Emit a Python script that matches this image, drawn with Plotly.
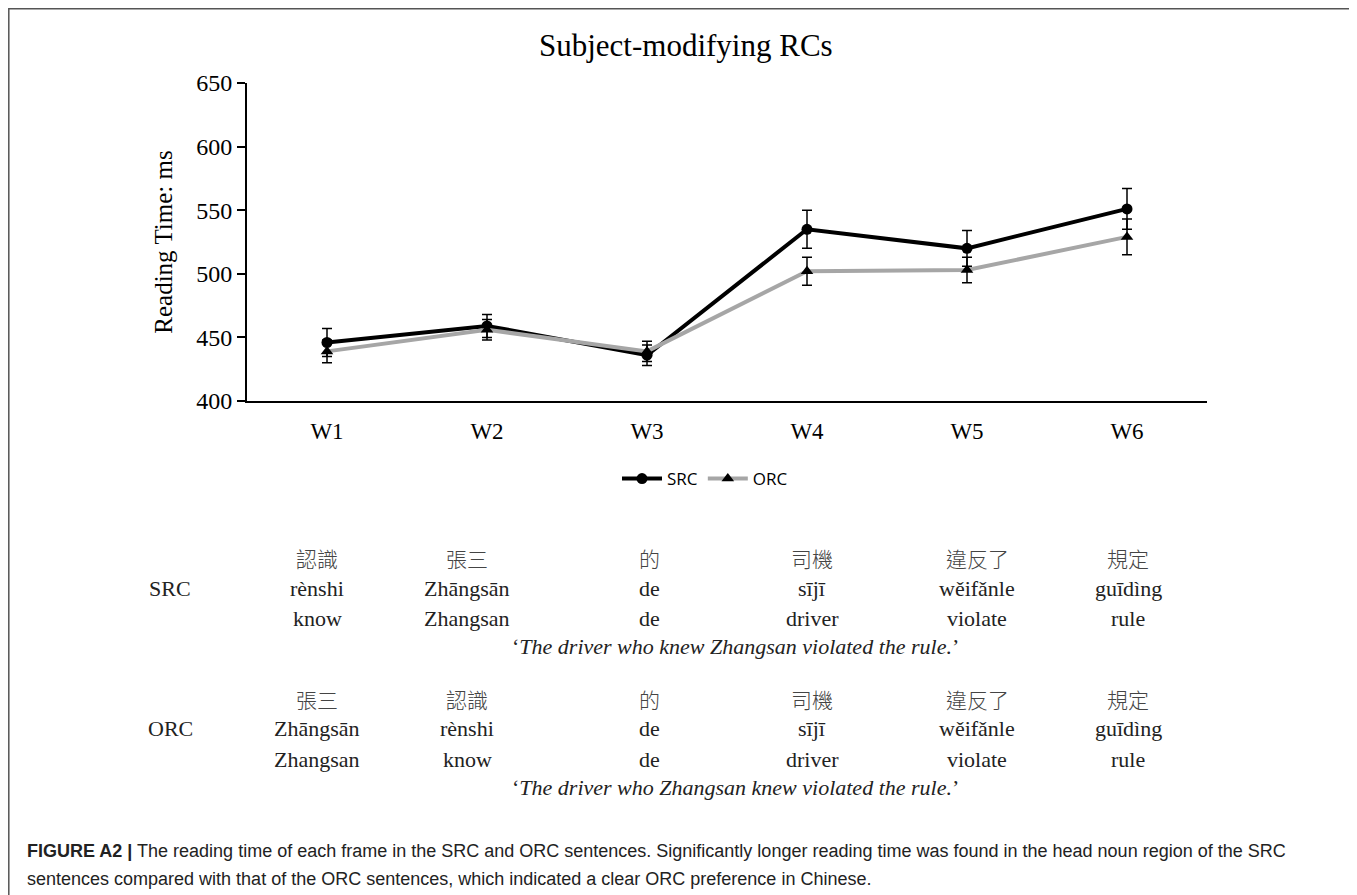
import plotly.graph_objects as go

# ---- data ----
words = ["W1", "W2", "W3", "W4", "W5", "W6"]
src_rt = [446, 459, 436, 535, 520, 551]
src_err = [11, 9, 8, 15, 14, 16]
orc_rt = [439, 456, 439, 502, 503, 529]
orc_err = [9, 8, 8, 11, 10, 14]

y_ticks = [400, 450, 500, 550, 600, 650]

src_cjk = ["認識", "張三", "的", "司機", "違反了", "規定"]
src_pinyin = ["rènshi", "Zhāngsān", "de", "sījī", "wěifǎnle", "guīdìng"]
src_gloss = ["know", "Zhangsan", "de", "driver", "violate", "rule"]
src_trans = "The driver who knew Zhangsan violated the rule."

orc_cjk = ["張三", "認識", "的", "司機", "違反了", "規定"]
orc_pinyin = ["Zhāngsān", "rènshi", "de", "sījī", "wěifǎnle", "guīdìng"]
orc_gloss = ["Zhangsan", "know", "de", "driver", "violate", "rule"]
orc_trans = "The driver who Zhangsan knew violated the rule."

caption_line1 = ("<b>FIGURE A2 |</b> The reading time of each frame in the SRC and ORC sentences. "
                 "Significantly longer reading time was found in the head noun region of the SRC")
caption_line2 = ("sentences compared with that of the ORC sentences, which indicated a clear ORC "
                 "preference in Chinese.")

# ---- layout geometry (pixels; page body adds an 8px offset) ----
OFF = 8
W, H = 1357 - OFF, 895 - OFF
L, T = 247 - OFF, 83 - OFF
PW, PH = 960, 318
R = W - L - PW
B = H - T - PH


def px(x):
    """reference-screen x pixel -> paper x"""
    return (x - OFF - L) / PW


def py(y):
    """reference-screen y pixel -> paper y"""
    return (T + PH - (y - OFF)) / PH


SERIF = "Liberation Serif, Times New Roman, serif"
CJK = "Noto Sans CJK TC, Noto Sans CJK SC, sans-serif"
SANS = "Liberation Sans, Arial, sans-serif"

fig = go.Figure()
fig.add_trace(go.Scatter(
    x=words, y=src_rt, name="SRC", mode="lines+markers",
    line=dict(color="black", width=4),
    marker=dict(symbol="circle", size=11, color="black"),
    error_y=dict(type="data", array=src_err, color="black", thickness=1.5, width=5),
))
fig.add_trace(go.Scatter(
    x=words, y=orc_rt, name="ORC", mode="lines+markers",
    line=dict(color="#a6a6a6", width=4),
    marker=dict(symbol="triangle-up", size=11, color="black"),
    error_y=dict(type="data", array=orc_err, color="black", thickness=1.5, width=5),
))

annotations = []
annotations.append(dict(text="Subject-modifying RCs", x=px(686), y=py(45), xref="paper", yref="paper",
                        showarrow=False, font=dict(family=SERIF, size=31, color="black"),
                        xanchor="center", yanchor="middle"))

col_x = [317, 467, 649, 812, 977, 1128]


def block(label, cjk, pinyin, gloss, trans, y0):
    rows_y = [y0, y0 + 30, y0 + 60, y0 + 88]
    annotations.append(dict(text=label, x=px(170), y=py(rows_y[1]), xref="paper", yref="paper",
                            showarrow=False, font=dict(family=SERIF, size=22, color="#222"),
                            xanchor="center", yanchor="middle"))
    for i, cx in enumerate(col_x):
        annotations.append(dict(text=cjk[i], x=px(cx), y=py(rows_y[0]), xref="paper", yref="paper",
                                showarrow=False,
                                font=dict(family=CJK, size=21, color="#444", weight=300),
                                xanchor="center", yanchor="middle"))
        annotations.append(dict(text=pinyin[i], x=px(cx), y=py(rows_y[1]), xref="paper", yref="paper",
                                showarrow=False, font=dict(family=SERIF, size=22, color="#222"),
                                xanchor="center", yanchor="middle"))
        annotations.append(dict(text=gloss[i], x=px(cx), y=py(rows_y[2]), xref="paper", yref="paper",
                                showarrow=False, font=dict(family=SERIF, size=22, color="#222"),
                                xanchor="center", yanchor="middle"))
    annotations.append(dict(text="‘<i>" + trans + "</i>’", x=px(735), y=py(rows_y[3]),
                            xref="paper", yref="paper", showarrow=False,
                            font=dict(family=SERIF, size=22, color="#222"),
                            xanchor="center", yanchor="middle"))


block("SRC", src_cjk, src_pinyin, src_gloss, src_trans, 558)
block("ORC", orc_cjk, orc_pinyin, orc_gloss, orc_trans, 699)

for txt, yy in ((caption_line1, 851), (caption_line2, 879)):
    annotations.append(dict(text=txt, x=px(25), y=py(yy), xref="paper", yref="paper",
                            showarrow=False, align="left",
                            font=dict(family=SANS, size=18, color="#222"),
                            xanchor="left", yanchor="middle"))

fig.update_layout(
    width=W, height=H,
    margin=dict(l=L, r=R, t=T, b=B),
    paper_bgcolor="white", plot_bgcolor="white",
    showlegend=True,
    legend=dict(orientation="h", x=px(705), y=py(479), xanchor="center", yanchor="middle",
                font=dict(family="Open Sans, sans-serif", size=17, color="black"),
                itemwidth=40, tracegroupgap=0, bgcolor="rgba(0,0,0,0)"),
    annotations=annotations,
    shapes=[dict(type="rect", xref="paper", yref="paper",
                 x0=px(8.8), x1=px(1355), y0=py(8.8), y1=py(960),
                 line=dict(color="#555", width=1.5), fillcolor="rgba(0,0,0,0)", layer="above")],
)

fig.update_xaxes(type="category", range=[-0.5, 5.5], showline=True, linecolor="black", linewidth=2,
                 showgrid=False, ticks="", tickfont=dict(family=SERIF, size=23, color="black"),
                 ticklabelstandoff=8, zeroline=False)
fig.update_yaxes(range=[400, 650], tickvals=y_ticks, showline=True, linecolor="black", linewidth=2,
                 showgrid=False, ticks="outside", ticklen=8, tickwidth=2, tickcolor="black",
                 tickfont=dict(family=SERIF, size=24, color="black"), zeroline=False,
                 title=dict(text="Reading Time: ms", font=dict(family=SERIF, size=25, color="black"),
                            standoff=16))

fig.write_html("out.html")
